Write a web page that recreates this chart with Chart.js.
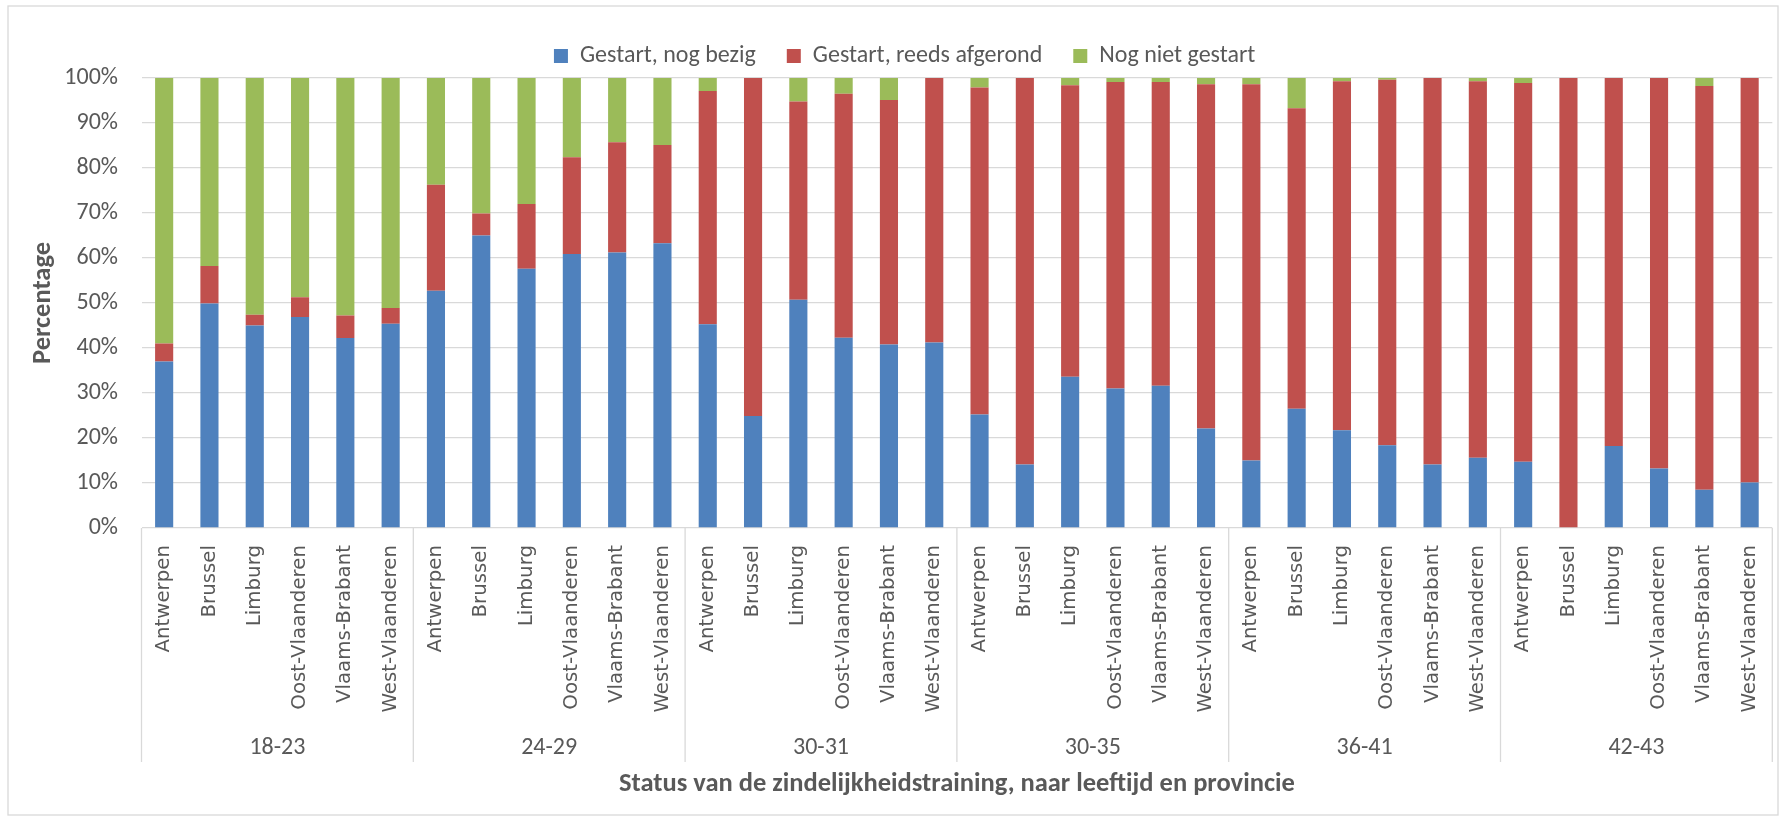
<!DOCTYPE html>
<html>
<head>
<meta charset="utf-8">
<script src="https://cdn.jsdelivr.net/npm/chart.js@4.4.1/dist/chart.umd.min.js"></script>
<style>
  html, body { margin: 0; padding: 0; background: #fff; }
</style>
</head>
<body>
<canvas id="chart" width="1785" height="820"></canvas>
<script>
// age groups (outer level) and provinces (inner level)
const groups = ["18-23", "24-29", "30-31", "30-35", "36-41", "42-43"];
const provinces = ["Antwerpen", "Brussel", "Limburg", "Oost-Vlaanderen", "Vlaams-Brabant", "West-Vlaanderen"];

// percentages, 6 provinces per age group, in group order
const bezig = [37.0, 49.9, 45.0, 46.9, 42.2, 45.4,
               52.7, 65.0, 57.6, 60.9, 61.2, 63.3,
               45.3, 24.9, 50.7, 42.3, 40.8, 41.2,
               25.2, 14.1, 33.6, 31.0, 31.6, 22.1,
               15.0, 26.5, 21.7, 18.4, 14.1, 15.6,
               14.7, 0.0, 18.2, 13.2, 8.5, 10.1];
const afgerond = [4.0, 8.3, 2.4, 4.4, 5.0, 3.5,
                  23.6, 4.9, 14.4, 21.5, 24.5, 21.8,
                  51.8, 75.1, 44.1, 54.2, 54.3, 58.8,
                  72.7, 85.9, 64.8, 68.1, 67.5, 76.5,
                  83.6, 66.8, 77.6, 81.2, 85.9, 83.7,
                  84.2, 100.0, 81.8, 86.8, 89.7, 89.9];
const nietGestart = [59.0, 41.8, 52.6, 48.7, 52.8, 51.1,
                     23.7, 30.1, 28.0, 17.6, 14.3, 14.9,
                     2.9, 0.0, 5.2, 3.5, 4.9, 0.0,
                     2.1, 0.0, 1.6, 0.9, 0.9, 1.4,
                     1.4, 6.7, 0.7, 0.4, 0.0, 0.7,
                     1.1, 0.0, 0.0, 0.0, 1.8, 0.0];

const yMin = 0, yMax = 100, yStep = 10;

const labels = [];
groups.forEach(() => provinces.forEach(p => labels.push(p)));

const grey = "#595959";
const lineGrey = "#d9d9d9";

// outer frame + separators between the age groups below the axis
const frame = {
  id: "frame",
  beforeDraw(chart) {
    const ctx = chart.ctx;
    ctx.save();
    ctx.fillStyle = "#fff";
    ctx.fillRect(0, 0, chart.width, chart.height);
    ctx.strokeStyle = lineGrey;
    ctx.lineWidth = 1.3;
    ctx.strokeRect(8, 6, 1770, 809);
    ctx.restore();
  },
  afterDraw(chart) {
    const x = chart.scales.x;
    const g = chart.scales.groups;
    const ctx = chart.ctx;
    ctx.save();
    ctx.strokeStyle = lineGrey;
    ctx.lineWidth = 1.3;
    for (let i = 0; i <= groups.length; i++) {
      const px = x.getPixelForValue(i * provinces.length - 0.5);
      ctx.beginPath();
      ctx.moveTo(px, chart.chartArea.bottom);
      ctx.lineTo(px, g.top + 49);
      ctx.stroke();
    }
    ctx.restore();
  }
};

new Chart(document.getElementById("chart"), {
  type: "bar",
  data: {
    labels: labels,
    datasets: [
      { label: "Gestart, nog bezig", data: bezig, backgroundColor: "#4f81bd" },
      { label: "Gestart, reeds afgerond", data: afgerond, backgroundColor: "#c0504d" },
      { label: "Nog niet gestart", data: nietGestart, backgroundColor: "#9bbb59" }
    ]
  },
  options: {
    responsive: false,
    animation: false,
    barPercentage: 0.4,
    categoryPercentage: 1.0,
    layout: { padding: { left: 37, right: 12.7, top: 0, bottom: 16.6 } },
    plugins: {
      legend: {
        position: "top",
        labels: {
          boxWidth: 14,
          boxHeight: 14,
          padding: 31,
          color: grey,
          font: { family: "Carlito", size: 24 }
        }
      },
      tooltip: { enabled: false }
    },
    scales: {
      x: {
        stacked: true,
        weight: 1,
        afterFit(scale) {
          scale.height = 185;
          scale.paddingLeft = 0;
          scale.paddingRight = 0;
        },
        grid: { display: false, drawTicks: false },
        border: { display: false },
        ticks: {
          autoSkip: false,
          maxRotation: 90,
          minRotation: 90,
          padding: 17,
          color: grey,
          font: { family: "DejaVu Sans", size: 19.8 }
        }
      },
      groups: {
        type: "category",
        position: "bottom",
        labels: groups,
        offset: true,
        weight: 2,
        afterFit(scale) {
          scale.height = 90.4;
          scale.paddingLeft = 0;
          scale.paddingRight = 0;
        },
        grid: { display: false, drawTicks: false },
        border: { display: false },
        ticks: {
          autoSkip: false,
          padding: 20.6,
          color: grey,
          font: { family: "Carlito", size: 24 }
        },
        title: {
          display: true,
          text: "Status van de zindelijkheidstraining, naar leeftijd en provincie",
          color: grey,
          font: { family: "Carlito", size: 26.5, weight: "bold" },
          padding: { top: 0, bottom: 3.5 }
        }
      },
      y: {
        stacked: true,
        min: yMin,
        max: yMax,
        afterFit(scale) {
          scale.width = 104.5;
          // keep the plot top below the legend like in the original
          scale.paddingTop = 78;
        },
        grid: { color: lineGrey, lineWidth: 1.3, drawTicks: false },
        border: { display: false },
        ticks: {
          stepSize: yStep,
          padding: 23.5,
          color: grey,
          font: { family: "Carlito", size: 24 },
          callback: v => v + "%"
        },
        title: {
          display: true,
          text: "Percentage",
          color: grey,
          font: { family: "Carlito", size: 26.5, weight: "bold" },
          padding: { top: -9.9, bottom: 0 }
        }
      }
    }
  },
  plugins: [frame]
});
</script>
</body>
</html>
